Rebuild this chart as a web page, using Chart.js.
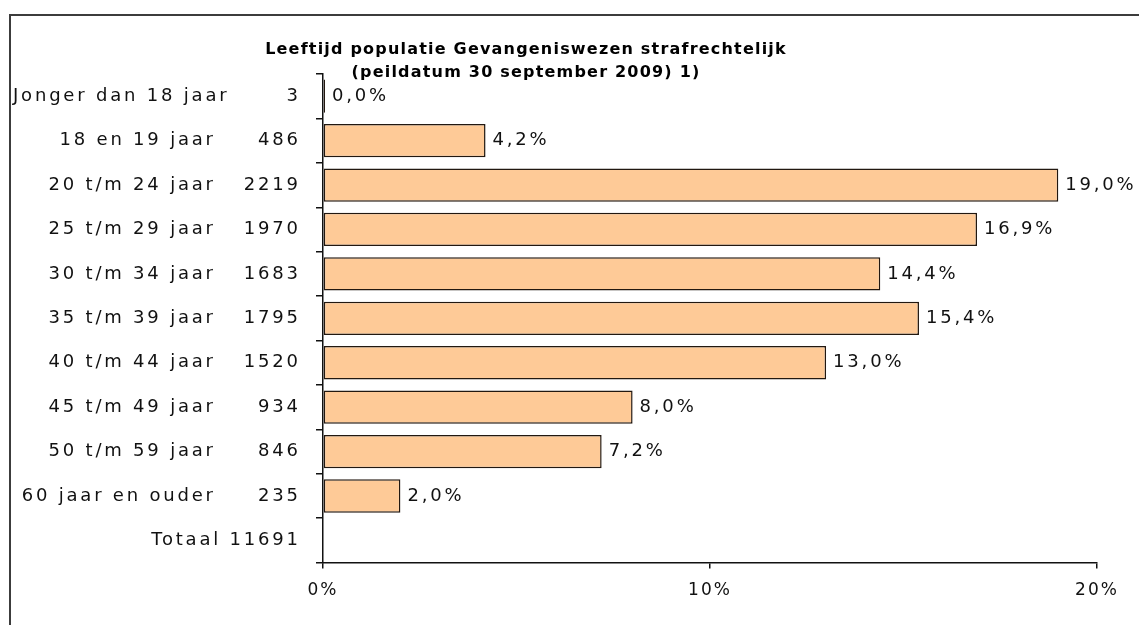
<!DOCTYPE html>
<html>
<head>
<meta charset="utf-8">
<title>Leeftijd populatie Gevangeniswezen</title>
<script src="https://cdn.jsdelivr.net/npm/chart.js@4.4.1/dist/chart.umd.min.js"></script>
<style>
  html, body { margin: 0; padding: 0; background: #fff; overflow: hidden; }
  #chart { display: block; }
</style>
</head>
<body>
<canvas id="chart" width="1139" height="625"></canvas>
<script>
// leeftijdsklassen, aantallen en aandeel (%)
const categories = [
  'Jonger dan 18 jaar', '18 en 19 jaar', '20 t/m 24 jaar', '25 t/m 29 jaar',
  '30 t/m 34 jaar', '35 t/m 39 jaar', '40 t/m 44 jaar', '45 t/m 49 jaar',
  '50 t/m 59 jaar', '60 jaar en ouder', 'Totaal'
];
const counts = [3, 486, 2219, 1970, 1683, 1795, 1520, 934, 846, 235, 11691];
const percentages = [0.0, 4.2, 19.0, 16.9, 14.4, 15.4, 13.0, 8.0, 7.2, 2.0, null];
const xTickValues = [0, 10, 20];
const titleLines = [
  'Leeftijd populatie Gevangeniswezen strafrechtelijk',
  '(peildatum 30 september 2009) 1)'
];

const FONT = '"DejaVu Sans", Verdana, sans-serif';
const INK = '#111';
const SPACING = 2.8;

const fmtPct = v => v.toFixed(1).replace('.', ',') + '%';

// kader, labels links (klasse + aantal), waardes achter de balken en de titel
const textPlugin = {
  id: 'rowText',
  beforeDraw(chart) {
    const { ctx } = chart;
    // kader: alleen boven- en linkerrand vallen binnen beeld
    ctx.save();
    ctx.strokeStyle = '#3c3c3c';
    ctx.lineWidth = 2;
    ctx.beginPath();
    ctx.moveTo(10, chart.height);
    ctx.lineTo(10, 15);
    ctx.lineTo(chart.width, 15);
    ctx.stroke();
    ctx.restore();
    ctx.letterSpacing = '2px';
  },
  afterDraw(chart) {
    const { ctx } = chart;
    const yScale = chart.scales.y;
    const meta = chart.getDatasetMeta(0);
    const nameRight = 213 + SPACING, countRight = 298 + SPACING, minLeft = 13;

    ctx.save();
    ctx.fillStyle = INK;
    ctx.font = '18px ' + FONT;
    ctx.letterSpacing = SPACING + 'px';
    ctx.textBaseline = 'middle';

    categories.forEach((name, i) => {
      const py = yScale.getPixelForValue(i);
      ctx.textAlign = 'right';
      if (i === categories.length - 1) {
        ctx.fillText(name + ' ' + counts[i], countRight, py);
        return;
      }
      ctx.fillText(String(counts[i]), countRight, py);
      const w = ctx.measureText(name).width;
      if (nameRight - w < minLeft) {
        ctx.textAlign = 'left';
        ctx.fillText(name, minLeft, py);
      } else {
        ctx.fillText(name, nameRight, py);
      }
    });

    ctx.textAlign = 'left';
    percentages.forEach((v, i) => {
      if (v == null) return;
      const bar = meta.data[i];
      ctx.fillText(fmtPct(v), bar.x + 7, bar.y);
    });

    ctx.font = 'bold 16px ' + FONT;
    ctx.letterSpacing = '1.2px';
    ctx.textAlign = 'center';
    ctx.fillStyle = '#000';
    ctx.fillText(titleLines[0], 526, 50);
    ctx.fillText(titleLines[1], 526, 73);
    ctx.restore();
  }
};

new Chart(document.getElementById('chart'), {
  type: 'bar',
  data: {
    labels: categories,
    datasets: [{
      data: percentages,
      backgroundColor: '#FECA97',
      borderColor: '#221810',
      borderWidth: 1.5,
      borderSkipped: false,
      minBarLength: 2,
      barPercentage: 0.75,
      categoryPercentage: 1
    }]
  },
  options: {
    indexAxis: 'y',
    responsive: false,
    animation: false,
    events: [],
    layout: { padding: { left: 316, right: 42, top: 74, bottom: 12 } },
    plugins: { legend: { display: false }, tooltip: { enabled: false } },
    scales: {
      x: {
        min: 0, max: 20,
        afterBuildTicks: s => { s.ticks = xTickValues.map(v => ({ value: v })); },
        ticks: { callback: v => v + '%', color: INK, padding: 12, maxRotation: 0,
                 font: { family: FONT, size: 17 } },
        grid: { drawOnChartArea: false, tickLength: 6, color: '#111', lineWidth: 1.5 },
        border: { color: '#111', width: 1.5 }
      },
      y: {
        ticks: { display: false },
        grid: { drawOnChartArea: false, offset: true, tickLength: 7, color: '#111', lineWidth: 1.5 },
        border: { color: '#111', width: 1.5 }
      }
    }
  },
  plugins: [textPlugin]
});
</script>
</body>
</html>
